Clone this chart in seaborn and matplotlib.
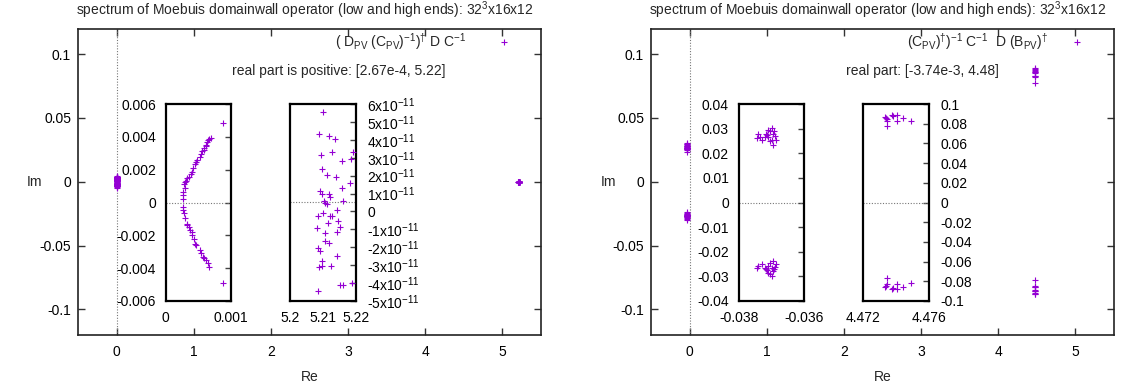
import numpy as np
import pandas as pd
import matplotlib
matplotlib.use("Agg")
import matplotlib.pyplot as plt
import seaborn as sns
from matplotlib.lines import Line2D
from matplotlib.ticker import FixedLocator, FixedFormatter

# ---------------- data ----------------
# left panel: low end of the spectrum (inset 1)
low_re_L = [0.00026, 0.00026, 0.00027, 0.00029, 0.00028, 0.00030, 0.00031, 0.00033, 0.00035,
            0.00038, 0.00040, 0.00042, 0.00045, 0.00046, 0.00048, 0.00052, 0.00054, 0.00056,
            0.00058, 0.00059, 0.00061, 0.00062, 0.00064, 0.00065, 0.00067, 0.00069, 0.00087,
            0.00026, 0.00027, 0.00028, 0.00030, 0.00032, 0.00033, 0.00035, 0.00037, 0.00040,
            0.00041, 0.00043, 0.00045, 0.00046, 0.00052, 0.00054, 0.00057, 0.00059, 0.00062,
            0.00065, 0.00067, 0.00087]
low_im_L = [0.00024, 0.00045, 0.00065, 0.00086, 0.00110, 0.00122, 0.00130, 0.00147, 0.00157,
            0.00171, 0.00184, 0.00212, 0.00233, 0.00249, 0.00260, 0.00280, 0.00294, 0.00314,
            0.00320, 0.00331, 0.00350, 0.00347, 0.00371, 0.00380, 0.00386, 0.00390, 0.00482,
            -0.00027, -0.00047, -0.00067, -0.00094, -0.00129, -0.00139, -0.00149, -0.00169,
            -0.00180, -0.00200, -0.00220, -0.00250, -0.00260, -0.00290, -0.00310, -0.00330,
            -0.00340, -0.00350, -0.00370, -0.00390, -0.00490]
# left panel: high end of the spectrum (inset 2), imaginary part in units of 1e-11
high_re_L = [5.2099, 5.2089, 5.2118, 5.2136, 5.2093, 5.2126, 5.2190, 5.2157, 5.2184, 5.2096,
             5.2111, 5.2138, 5.2182, 5.2159, 5.2091, 5.2096, 5.2117, 5.2120, 5.2103, 5.2162,
             5.2106, 5.2111, 5.2143, 5.2099, 5.2084, 5.2126, 5.2121, 5.2146, 5.2116, 5.2083,
             5.2152, 5.2143, 5.2106, 5.2106, 5.2119, 5.2086, 5.2091, 5.2141, 5.2098, 5.2098,
             5.2088, 5.2123, 5.2152, 5.2162, 5.2187, 5.2086]
high_im_L_e11 = [5.53, 4.32, 4.23, 4.04, 3.15, 3.30, 3.30, 2.84, 2.91, 2.37,
                 2.04, 1.91, 1.58, 1.30, 1.15, 1.00, 1.00, 0.83, 0.59, 0.61,
                 0.46, 0.41, 0.09, -0.11, -0.28, -0.24, -0.28, -0.52, -0.65, -0.93,
                 -0.87, -1.13, -1.21, -1.63, -1.74, -2.04, -2.19, -2.50, -2.75, -3.02,
                 -3.10, -3.04, -4.12, -4.08, -3.99, -4.42]

# right panel: low end (inset 3)
low_re_R = [-0.03740, -0.03745, -0.03735, -0.03730, -0.03717, -0.03710, -0.03705, -0.03700,
            -0.03694, -0.03689, -0.03686, -0.03700, -0.03710, -0.03705, -0.03696, -0.03715,
            -0.03692, -0.03720,
            -0.03740, -0.03745, -0.03730, -0.03717, -0.03710, -0.03705, -0.03700, -0.03694,
            -0.03689, -0.03686, -0.03700, -0.03710, -0.03705, -0.03696, -0.03715, -0.03692,
            -0.03720]
low_im_R = [0.0280, 0.0262, 0.0265, 0.0255, 0.0278, 0.0296, 0.0289, 0.0303,
            0.0278, 0.0269, 0.0255, 0.0255, 0.0265, 0.0249, 0.0235, 0.0273,
            0.0292, 0.0265,
            -0.0258, -0.0265, -0.0251, -0.0272, -0.0285, -0.0292, -0.0299, -0.0238,
            -0.0262, -0.0251, -0.0265, -0.0258, -0.0245, -0.0278, -0.0276, -0.0272,
            -0.0265]
# right panel: high end (inset 4)
high_re_R = [4.47332, 4.47342, 4.47346, 4.47346, 4.47373, 4.47379, 4.47407, 4.47407, 4.47444,
             4.47488, 4.47338,
             4.47342, 4.47346, 4.47332, 4.47373, 4.47379, 4.47407, 4.47407, 4.47444, 4.47488,
             4.47338]
high_im_R = [0.0865, 0.0851, 0.0774, 0.0831, 0.0892, 0.0875, 0.0885, 0.0831, 0.0858,
             0.0824, 0.0858,
             -0.0770, -0.0824, -0.0858, -0.0882, -0.0870, -0.0882, -0.0824, -0.0855, -0.0814,
             -0.0845]

title_text = r"spectrum of Moebuis domainwall operator (low and high ends): 32$^{\mathregular{3}}$x16x12"
key_L = r"( D$_{\mathregular{PV}}$ (C$_{\mathregular{PV}}$)$^{\mathregular{-1}}$)$^{\dagger}$ D C$^{\mathregular{-1}}$"
key_R = r"(C$_{\mathregular{PV}}$)$^{\dagger}$)$^{\mathregular{-1}}$ C$^{\mathregular{-1}}$  D (B$_{\mathregular{PV}}$)$^{\dagger}$"
note_L = "real part is positive: [2.67e-4, 5.22]"
note_R = "real part: [-3.74e-3, 4.48]"

main_xticks = [0, 1, 2, 3, 4, 5]
main_yticks = [0.1, 0.05, 0, -0.05, -0.1]
main_ylabels = ["0.1", "0.05", "0", "-0.05", "-0.1"]
in1_yticks = [0.006, 0.004, 0.002, 0, -0.002, -0.004, -0.006]
in1_ylabels = ["0.006", "0.004", "0.002", "0", "-0.002", "-0.004", "-0.006"]
in1_xticks = [0, 0.001]; in1_xlabels = ["0", "0.001"]
in2_yticks_e11 = [6, 5, 4, 3, 2, 1, 0, -1, -2, -3, -4, -5]
in2_xticks = [5.2, 5.21, 5.22]; in2_xlabels = ["5.2", "5.21", "5.22"]
in3_yticks = [0.04, 0.03, 0.02, 0.01, 0, -0.01, -0.02, -0.03, -0.04]
in3_ylabels = ["0.04", "0.03", "0.02", "0.01", "0", "-0.01", "-0.02", "-0.03", "-0.04"]
in3_xticks = [-0.038, -0.036]; in3_xlabels = ["-0.038", "-0.036"]
in4_yticks = [0.1, 0.08, 0.06, 0.04, 0.02, 0, -0.02, -0.04, -0.06, -0.08, -0.1]
in4_ylabels = ["0.1", "0.08", "0.06", "0.04", "0.02", "0", "-0.02", "-0.04", "-0.06", "-0.08", "-0.1"]
in4_xticks = [4.472, 4.476]; in4_xlabels = ["4.472", "4.476"]

# ---------------- style ----------------
sns.set_theme(style="white")
plt.rcParams["font.family"] = ["Liberation Sans", "DejaVu Sans"]
plt.rcParams["mathtext.fontset"] = "custom"
plt.rcParams["mathtext.rm"] = "Liberation Sans"
plt.rcParams["mathtext.it"] = "Liberation Sans:italic"
plt.rcParams["mathtext.bf"] = "Liberation Sans:bold"
plt.rcParams["axes.unicode_minus"] = False

FS = 10
PURPLE = "#9400D3"
W, H = 1121, 387
fig = plt.figure(figsize=(W / 100, H / 100), dpi=100)
fig.patch.set_facecolor("white")


def px_axes(x0, y0, x1, y1):
    return fig.add_axes([x0 / W, 1 - y1 / H, (x1 - x0) / W, (y1 - y0) / H])


def scatter(ax, xs, ys, s=20):
    df = pd.DataFrame({"Re": xs, "Im": ys})
    sns.scatterplot(data=df, x="Re", y="Im", ax=ax, marker="+", color=PURPLE,
                    s=s, linewidth=0.8, legend=False, zorder=3)


def style_main(ax):
    ax.set_xlim(-0.5, 5.5)
    ax.set_ylim(-0.12, 0.12)
    ax.xaxis.set_major_locator(FixedLocator(main_xticks))
    ax.xaxis.set_major_formatter(FixedFormatter([str(t) for t in main_xticks]))
    ax.yaxis.set_major_locator(FixedLocator(main_yticks))
    ax.yaxis.set_major_formatter(FixedFormatter(main_ylabels))
    ax.tick_params(direction="in", length=5, width=1, top=True, right=True,
                   bottom=True, left=True, labelsize=FS, colors="black", color="#333333")
    ax.tick_params(axis="x", pad=7)
    ax.tick_params(axis="y", pad=5)
    for sp in ax.spines.values():
        sp.set_visible(True)
        sp.set_color("#222222")
        sp.set_linewidth(1.2)
    ax.axvline(0, color="#777777", lw=0.8, ls=(0, (1, 1.5)), zorder=1)
    ax.set_xlabel("Re", fontsize=FS)
    ax.set_ylabel("Im", fontsize=FS, rotation=0)
    ax.xaxis.set_label_coords(0.5, -0.137)
    ax.xaxis.label.set_va("center")
    ax.yaxis.set_label_coords(-43 / 463, 0.5)
    ax.yaxis.label.set_va("center")
    ax.yaxis.label.set_ha("center")
    ax.grid(False)


def style_inset(ax, labels_right):
    for sp in ax.spines.values():
        sp.set_visible(True)
        sp.set_color("black")
        sp.set_linewidth(1.6)
    ax.set_facecolor("white")
    ax.grid(False)
    ax.set_xlabel("")
    ax.set_ylabel("")
    ax.tick_params(axis="x", length=0, pad=7, labelsize=FS, colors="black")
    if labels_right:
        ax.tick_params(axis="y", which="both", direction="in", length=4, width=1,
                       left=False, right=True, labelleft=False, labelright=True,
                       pad=8, labelsize=FS, colors="black", color="#444444")
    else:
        ax.tick_params(axis="y", which="both", direction="in", length=4, width=1,
                       left=False, right=True, labelleft=True, labelright=False,
                       pad=7, labelsize=FS, colors="black", color="#444444")


# ---------------- main panels ----------------
axL = px_axes(78, 28.5, 541, 335)
axR = px_axes(651, 28.5, 1114, 335)

scatter(axL, low_re_L + high_re_L,
        low_im_L + [v * 1e-11 for v in high_im_L_e11])
scatter(axR, low_re_R + high_re_R, low_im_R + high_im_R)
style_main(axL)
style_main(axR)

for ax, key, note, notex, txtpad, mk in [(axL, key_L, note_L, 339, 2.2, 503.6),
                                         (axR, key_R, note_R, 922, 1.6, 1077)]:
    h = Line2D([], [], marker="+", ls="none", color=PURPLE, markersize=5, mew=0.8)
    x0 = ax.get_position().x0 * W
    ax.legend([h], [key], loc="center right", frameon=False, fontsize=FS,
              markerfirst=False, handlelength=1.0, handletextpad=txtpad,
              borderpad=0, borderaxespad=0,
              bbox_to_anchor=((mk + 7 - x0) / 463, 1 - (42 - 28.5) / 306.5))
    fig.text(notex / W, 1 - 71 / H, note, ha="center", va="center", fontsize=FS)
    cx = (ax.get_position().x0 + ax.get_position().x1) / 2
    fig.text(cx - 5 / W, 1 - 10 / H, title_text, ha="center", va="center", fontsize=FS)

# ---------------- insets ----------------
in1 = px_axes(165.7, 104, 231, 301)
scatter(in1, low_re_L, low_im_L, s=24)
in1.set_xlim(0, 0.001); in1.set_ylim(-0.006, 0.006)
in1.xaxis.set_major_locator(FixedLocator(in1_xticks))
in1.xaxis.set_major_formatter(FixedFormatter(in1_xlabels))
in1.yaxis.set_major_locator(FixedLocator(in1_yticks))
in1.yaxis.set_major_formatter(FixedFormatter(in1_ylabels))
in1.axhline(0, color="#777777", lw=0.8, ls=(0, (1, 1.5)), zorder=1)
style_inset(in1, labels_right=False)

in2 = px_axes(290, 104, 356, 301)
scatter(in2, high_re_L, [v * 1e-11 for v in high_im_L_e11], s=24)
in2.set_xlim(5.2, 5.22); in2.set_ylim(-5e-11, 6e-11)
in2.xaxis.set_major_locator(FixedLocator(in2_xticks))
in2.xaxis.set_major_formatter(FixedFormatter(in2_xlabels))
in2.yaxis.set_major_locator(FixedLocator([t * 1e-11 for t in in2_yticks_e11]))
in2.yaxis.set_major_formatter(FixedFormatter(
    ["0" if t == 0 else "%dx10" % t + r"$^{\mathregular{-11}}$" for t in in2_yticks_e11]))
in2.axhline(0.52e-11, color="#777777", lw=0.8, ls=(0, (1, 1.5)), zorder=1)
style_inset(in2, labels_right=True)

in3 = px_axes(738.7, 104, 804.3, 301)
scatter(in3, low_re_R, low_im_R, s=24)
in3.set_xlim(-0.038, -0.036); in3.set_ylim(-0.04, 0.04)
in3.xaxis.set_major_locator(FixedLocator(in3_xticks))
in3.xaxis.set_major_formatter(FixedFormatter(in3_xlabels))
in3.yaxis.set_major_locator(FixedLocator(in3_yticks))
in3.yaxis.set_major_formatter(FixedFormatter(in3_ylabels))
in3.axhline(0, color="#777777", lw=0.8, ls=(0, (1, 1.5)), zorder=1)
style_inset(in3, labels_right=False)

in4 = px_axes(863.3, 104, 929, 301)
scatter(in4, high_re_R, high_im_R, s=24)
in4.set_xlim(4.472, 4.476); in4.set_ylim(-0.1, 0.1)
in4.xaxis.set_major_locator(FixedLocator(in4_xticks))
in4.xaxis.set_major_formatter(FixedFormatter(in4_xlabels))
in4.yaxis.set_major_locator(FixedLocator(in4_yticks))
in4.yaxis.set_major_formatter(FixedFormatter(in4_ylabels))
in4.axhline(0, color="#777777", lw=0.8, ls=(0, (1, 1.5)), zorder=1)
style_inset(in4, labels_right=True)

fig.savefig("out.png", dpi=100, facecolor="white")
